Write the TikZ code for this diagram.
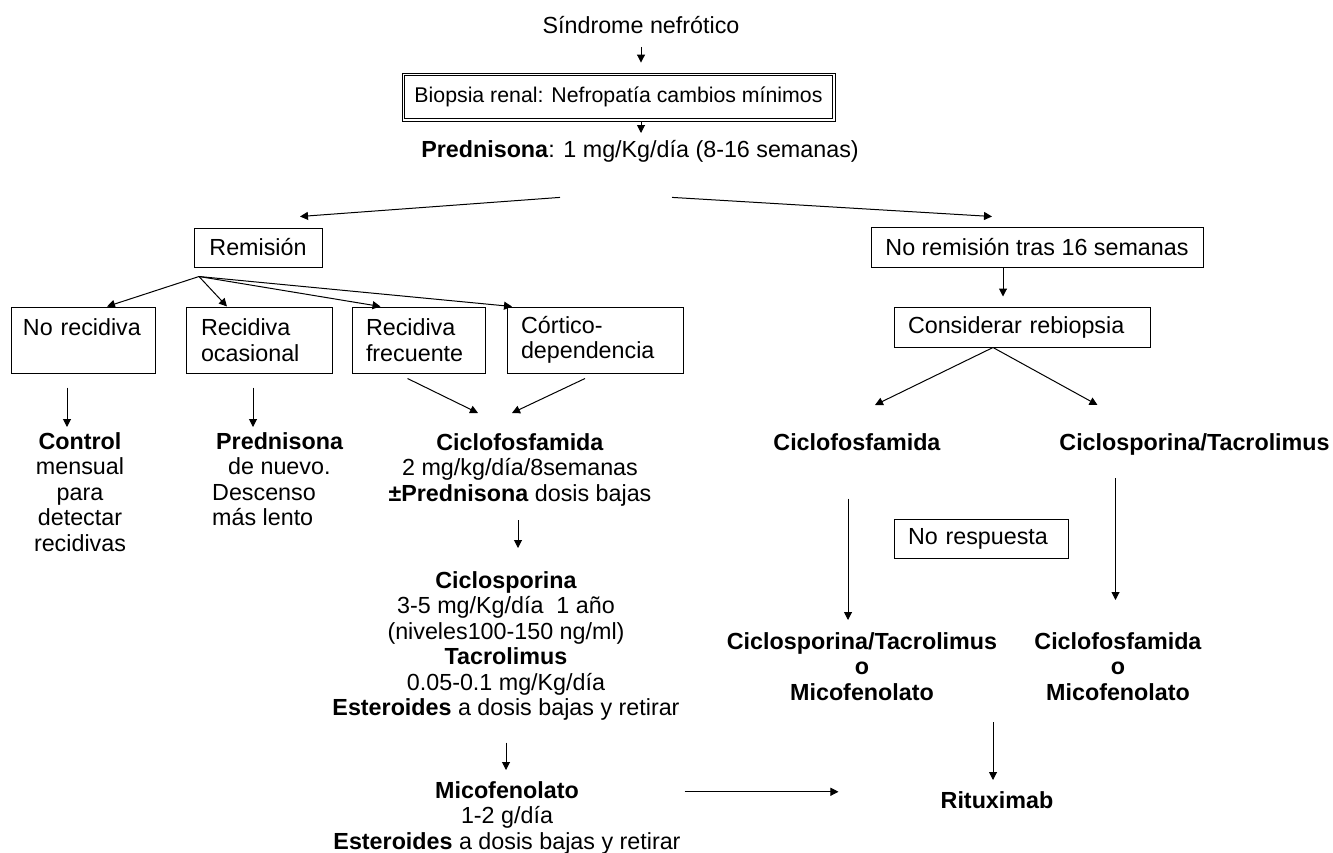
\documentclass[tikz,border=0pt]{standalone}
\usepackage{fontspec}
\setmainfont{Liberation Sans}
\usetikzlibrary{arrows.meta}
\newcommand{\flowfont}{\fontsize{23.3}{25.5}\selectfont}

\begin{document}
\begin{tikzpicture}[x=1pt,y=-1pt,
  every node/.append style={inner sep=0pt, font=\flowfont},
  box/.style={draw, line width=1pt},
  txt/.style={align=center, anchor=north},
  arr/.style={line width=1pt, -{Triangle[length=8pt,width=8pt]}}]
\useasboundingbox (0,0) rectangle (1333,852);
\node (sindrome) at (641,25) {Síndrome nefrótico};
\node [box, line width=0.9pt, minimum width=433pt, minimum height=48pt, font=\fontsize{21.3}{25.5}\selectfont] (biopsia) at (618.5,97) {Biopsia renal: Nefropatía cambios mínimos};
\draw [line width=0.9pt] ([shift={(2.6pt,-2.6pt)}]biopsia.north west) rectangle ([shift={(-2.6pt,2.6pt)}]biopsia.south east);
\node [txt] (prednisona) at (640,140) {\textbf{Prednisona}: 1 mg/Kg/día (8-16 semanas)};
\node [box, minimum width=128pt, minimum height=39pt] (remision) at (258,247.5) {Remisión};
\node [box, minimum width=332pt, minimum height=40pt] (noremision) at (1037,247) {No remisión tras 16 semanas};
\node [box, minimum width=144pt, minimum height=66pt, text width=120pt, align=left] (norec) at (83,340) {No recidiva\\~};
\node [box, minimum width=146pt, minimum height=66pt, text width=116pt, align=left] (recoc) at (259,340) {Recidiva\\ocasional};
\node [box, minimum width=133pt, minimum height=66pt, text width=105pt, align=left] (recfr) at (418.5,340) {Recidiva\\frecuente};
\node [box, minimum width=176pt, minimum height=66pt, text width=148pt, align=left] (cortico) at (595,340) {Córtico-\\dependencia};
\node [txt] (control) at (80,432) {\textbf{Control}\\mensual\\para\\detectar\\recidivas};
\node [anchor=north west, align=left] (prednew) at (212,432) {\hspace*{4pt}\textbf{Prednisona}\\\hspace*{16pt}de nuevo.\\Descenso\\más lento};
\node [txt] (ciclo) at (520,433) {\textbf{Ciclofosfamida}\\2 mg/kg/día/8semanas\\\textbf{±Prednisona} dosis bajas};
\node [txt] (ciclosp) at (506,571) {\textbf{Ciclosporina}\\3-5 mg/Kg/día~~1 año\\(niveles100-150 ng/ml)\\\textbf{Tacrolimus}\\0.05-0.1 mg/Kg/día\\\textbf{Esteroides} a dosis bajas y retirar};
\node [txt] (mico) at (507,781) {\textbf{Micofenolato}\\1-2 g/día\\\textbf{Esteroides} a dosis bajas y retirar};
\node [box, minimum width=256pt, minimum height=40pt, text width=228pt, align=left] (rebiopsia) at (1022,327) {Considerar rebiopsia};
\node [txt] (rcf) at (857,433) {\textbf{Ciclofosfamida}};
\node [txt] (rcs) at (1194.5,433) {\textbf{Ciclosporina/Tacrolimus}};
\node [box, minimum width=174pt, minimum height=39pt, text width=146pt, align=left] (norespuesta) at (981,538.5) {No respuesta};
\node [txt] (lcs) at (862,632) {\textbf{Ciclosporina/Tacrolimus}\\\textbf{o}\\\textbf{Micofenolato}};
\node [txt] (rcm) at (1118,632) {\textbf{Ciclofosfamida}\\\textbf{o}\\\textbf{Micofenolato}};
\node [txt] (rituximab) at (997,791) {\textbf{Rituximab}};
\coordinate (fan) at ([xshift=-59pt,yshift=-9pt]remision.south);
\coordinate (split) at ([xshift=-29pt]rebiopsia.south);
\coordinate (merge) at (993,722);
\draw [arr, shorten <=13pt, shorten >=10pt] (sindrome.south) -- (sindrome.south |- biopsia.north);
\draw [arr, shorten >=7pt] (sindrome.south |- biopsia.south) -- (sindrome.south |- prednisona.north);
\draw [arr] ([xshift=-80pt,yshift=-35pt]prednisona.south) -- ([xshift=42pt,yshift=11pt]remision.north);
\draw [arr] ([xshift=32pt,yshift=-35pt]prednisona.south) -- ([xshift=-45pt,yshift=10pt]noremision.north);
\draw [arr] (fan) -- ([xshift=24pt]norec.north);
\draw [arr] (fan) -- ([xshift=-32pt]recoc.north);
\draw [arr] (fan) -- ([xshift=-38pt]recfr.north);
\draw [arr] (fan) -- ([xshift=-83pt]cortico.north);
\draw [arr, shorten <=14pt, shorten >=5pt] ([xshift=-16pt]norec.south) -- ([xshift=-16pt]norec.south |- control.north);
\draw [arr, shorten <=14pt, shorten >=5pt] ([xshift=-6pt]recoc.south) -- ([xshift=-6pt]recoc.south |- prednew.north);
\draw [arr] ([xshift=-11pt,yshift=-5pt]recfr.south) -- ([xshift=-42pt,yshift=20pt]ciclo.north);
\draw [arr] ([xshift=-10pt,yshift=-5pt]cortico.south) -- ([xshift=-8pt,yshift=20pt]ciclo.north);
\draw [arr, shorten <=14pt, shorten >=23pt] ([xshift=-2pt]ciclo.south) -- ([xshift=-2pt]ciclo.south |- ciclosp.north);
\draw [arr, shorten <=22pt, shorten >=11pt] (ciclosp.south) -- (ciclosp.south |- mico.north);
\draw [arr, shorten <=4pt, shorten >=102pt] ([yshift=8pt]rituximab.west -| mico.east) -- ([yshift=8pt]rituximab.west);
\draw [arr, shorten >=10pt] ([xshift=-34pt]noremision.south) -- ([xshift=-34pt]noremision.south |- rebiopsia.north);
\draw [arr] (split) -- ([xshift=18pt,yshift=28pt]rcf.north);
\draw [arr] (split) -- ([xshift=-97pt,yshift=28pt]rcs.north);
\draw [arr, shorten <=48pt, shorten >=12pt] ([xshift=-9pt]rcf.south) -- ([xshift=-9pt]rcf.south |- lcs.north);
\draw [arr, shorten <=23pt, shorten >=32pt] ([xshift=-79pt]rcs.south) -- ([xshift=-79pt]rcs.south |- rcm.north);
\draw [arr, shorten >=11pt] (merge) -- (merge |- rituximab.north);
\end{tikzpicture}
\end{document}
